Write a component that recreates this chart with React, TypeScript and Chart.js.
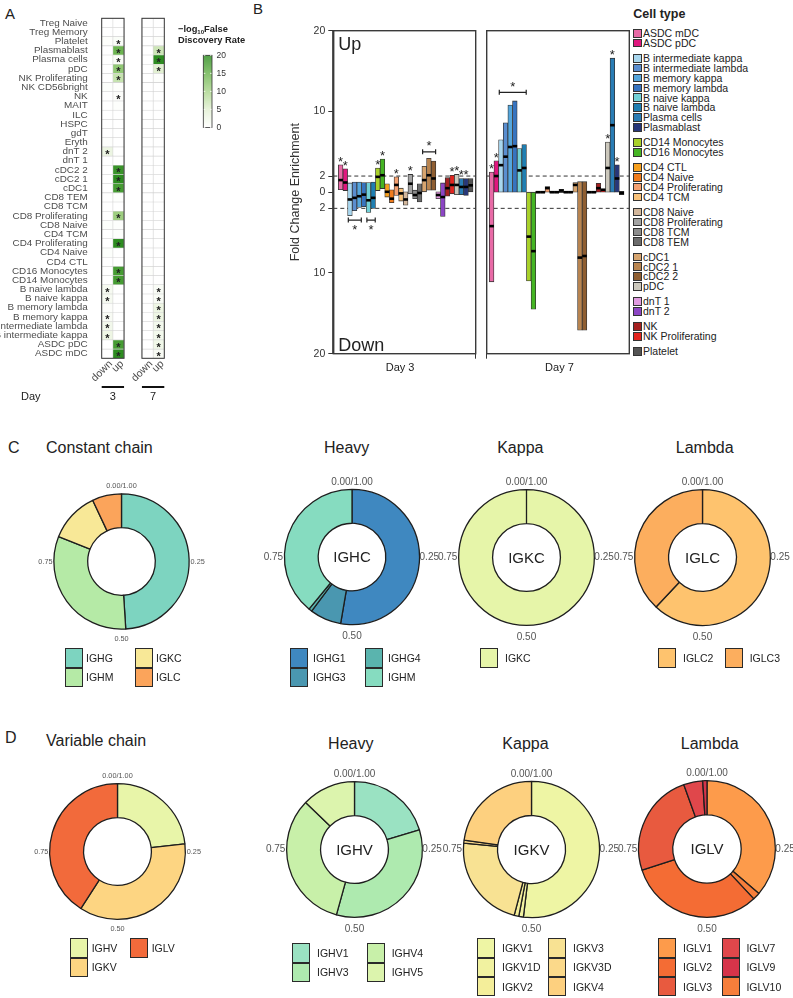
import React, { useEffect, useRef } from 'react';
import { Chart, registerables } from 'chart.js';

Chart.register(...registerables);

const FONT = '"Liberation Sans", Arial, Helvetica, sans-serif';
Chart.defaults.font.family = FONT;
const INK = '#222222';
const LABEL_GREY = '#4d4d4d';
const TICK_GREY = '#555555';

/* ---------------- Panel A : heatmap data ---------------- */
const heatRows = [
  'Treg Naive', 'Treg Memory', 'Platelet', 'Plasmablast', 'Plasma cells', 'pDC',
  'NK Proliferating', 'NK CD56bright', 'NK', 'MAIT', 'ILC', 'HSPC', 'gdT', 'Eryth',
  'dnT 2', 'dnT 1', 'cDC2 2', 'cDC2 1', 'cDC1', 'CD8 TEM', 'CD8 TCM',
  'CD8 Proliferating', 'CD8 Naive', 'CD4 TCM', 'CD4 Proliferating', 'CD4 Naive',
  'CD4 CTL', 'CD16 Monocytes', 'CD14 Monocytes', 'B naive lambda', 'B naive kappa',
  'B memory lambda', 'B memory kappa', 'B intermediate lambda', 'B intermediate kappa',
  'ASDC pDC', 'ASDC mDC',
];
const heatDays = ['3', '7'];
const heatDay3Down = [
  0, 0, 0.4, 0, 0, 0, 0, 0.5, 0, 0,
  0, 0, 0, 0.3, 3.2, 0, 0, 0, 0, 0,
  0, 0, 0.5, 0, 0, 0.5, 0, 0, 0, 1.6,
  1.6, 0.6, 1.2, 2.2, 3, 0, 0,
];
const heatDay3Up = [
  0, 0, 0.8, 15, 1, 12, 7.5, 0.4, 0.6, 0.3,
  0, 0, 0, 0, 0, 0, 19, 20, 18, 0.3,
  0, 11, 0.3, 0.3, 20, 0, 0, 18, 18, 0,
  0, 0, 0, 0, 0, 18, 20,
];
const heatDay7Down = [
  0, 0, 0, 0, 0, 0, 0, 0, 0, 0,
  0, 0, 0, 0, 0, 0, 0, 0, 0, 0,
  0, 0, 0, 0, 0, 0, 0, 0.4, 0, 0,
  0, 0, 0, 0, 0, 0, 0,
];
const heatDay7Up = [
  0, 0, 0.4, 7, 20, 5, 0.3, 0, 0, 0,
  0, 0, 0, 0, 0, 0, 0, 0, 0, 0,
  0, 0, 0, 0, 0, 0, 0, 0, 0, 1,
  1, 3, 3, 2, 2, 2.5, 1.2,
];
const starDay3Down = ['dnT 2', 'B naive lambda', 'B naive kappa', 'B memory kappa', 'B intermediate lambda', 'B intermediate kappa'];
const starDay3Up = ['Platelet', 'Plasmablast', 'Plasma cells', 'pDC', 'NK Proliferating', 'NK', 'cDC2 2', 'cDC2 1', 'cDC1',
  'CD8 Proliferating', 'CD4 Proliferating', 'CD16 Monocytes', 'CD14 Monocytes', 'ASDC pDC', 'ASDC mDC'];
const starDay7Down: string[] = [];
const starDay7Up = ['Plasmablast', 'Plasma cells', 'pDC', 'B naive lambda', 'B naive kappa', 'B memory lambda',
  'B memory kappa', 'B intermediate lambda', 'B intermediate kappa', 'ASDC pDC', 'ASDC mDC'];
const fdrTicks = [0, 5, 10, 15, 20];
const fdrMax = 20;

/* ---------------- Panel B : fold change data ---------------- */
const cellTypes = [
  'ASDC mDC', 'ASDC pDC', 'B intermediate kappa', 'B intermediate lambda', 'B memory kappa',
  'B memory lambda', 'B naive kappa', 'B naive lambda', 'CD14 Monocytes', 'CD16 Monocytes',
  'CD4 CTL', 'CD4 Naive', 'CD4 Proliferating', 'CD4 TCM', 'CD8 Naive', 'CD8 Proliferating',
  'CD8 TCM', 'CD8 TEM', 'cDC1', 'cDC2 1', 'cDC2 2', 'dnT 1', 'dnT 2', 'NK', 'NK Proliferating',
  'pDC', 'Plasma cells', 'Plasmablast', 'Platelet',
];
const cellColors = [
  '#e86aa6', '#e0177e', '#a8d6ee', '#5a8ed0', '#55a6dc', '#3774c0', '#72d1d7', '#1f7fb2',
  '#a9d12a', '#45b523', '#f7a01e', '#f07b1c', '#f5a070', '#f9c27a', '#d3b79c', '#a3a3a3',
  '#8c8c8c', '#6b6b6b', '#d7a56f', '#b98550', '#8f5e31', '#e09be0', '#8c45c4', '#a52020',
  '#e3241e', '#ccc8bc', '#2a7db5', '#27377a', '#545454',
];
const day3Low = [0.3, 0.2, -2.9, -2.3, -1.9, -1.8, -2.5, -2.0, 0.2, 0.45, -0.6, -1.3, -0.4, -1.1, -1.6,
  -0.2, -0.8, -1.2, 0.05, 0.25, 0.25, -0.8, -3.0, -0.5, -0.2, -0.3, -0.3, -0.4, 0.05];
const day3Median = [1.5, 1.2, -0.9, -0.7, -0.5, -0.3, -1.0, -0.7, 1.9, 2.1, 0.05, -0.8, 0.9, -0.15, -0.9,
  1.05, -0.35, -0.1, 1.5, 2.1, 1.7, -0.35, -0.6, 0.5, 0.9, 0.9, 0.65, 0.65, 0.85];
const day3High = [3.4, 2.9, 1.15, 1.25, 1.25, 1.2, 1.2, 1.25, 3.0, 4.1, 1.05, 0.3, 1.9, 0.5, 0.05,
  2.2, 0.25, 1.05, 3.2, 4.2, 3.85, 0.05, 1.15, 1.8, 2.1, 2.2, 1.7, 1.7, 1.7];
const day7Low = [-11.1, 0, 0, 0, 0, 0, 0, 0, -11.0, -14.5, -0.1, -0.1, 0, -0.1, -0.1, -0.05, -0.1, -0.1,
  0, -17.1, -17.1, -0.1, -0.1, 0, 0, 0, 0, 0, -0.3];
const day7Median = [-4.2, 2.0, 3.35, 4.4, 5.6, 5.7, 2.7, 3.0, -5.5, -7.3, 0, 0, 0.5, 0, 0, 0.2, 0, 0,
  0.9, -8.1, -7.9, 0, 0, 0.5, 0.3, 3.0, 8.3, 1.7, -0.1];
const day7High = [2.5, 3.9, 6.5, 8.6, 10.8, 11.3, 5.4, 5.9, 0, 0, 0.1, 0.1, 0.7, 0.1, 0.1, 0.35, 0.1, 0.1,
  1.2, 1.3, 1.3, 0.1, 0.1, 1.1, 0.4, 6.2, 16.6, 3.4, 0.1];
const foldTicks = [-20, -10, -2, 0, 2, 10, 20];
const foldThresholds = [-2, 2];
const dayLabels = ['Day 3', 'Day 7'];
const day3UpStars = ['ASDC mDC', 'ASDC pDC', 'CD14 Monocytes', 'CD16 Monocytes', 'CD4 Proliferating',
  'CD8 Proliferating', 'NK Proliferating', 'pDC', 'Plasma cells', 'Plasmablast'];
const day3Brackets = [
  { from: 'cDC1', to: 'cDC2 2', at: 5.0 },
  { from: 'B intermediate kappa', to: 'B memory kappa', at: -3.45 },
  { from: 'B naive kappa', to: 'B naive lambda', at: -3.45 },
];
const day7UpStars = ['ASDC mDC', 'ASDC pDC', 'pDC', 'Plasma cells', 'Plasmablast'];
const day7Brackets = [{ from: 'B intermediate kappa', to: 'B naive lambda', at: 12.37 }];
const legendGroups = [
  ['ASDC mDC', 'ASDC pDC'],
  ['B intermediate kappa', 'B intermediate lambda', 'B memory kappa', 'B memory lambda', 'B naive kappa', 'B naive lambda', 'Plasma cells', 'Plasmablast'],
  ['CD14 Monocytes', 'CD16 Monocytes'],
  ['CD4 CTL', 'CD4 Naive', 'CD4 Proliferating', 'CD4 TCM'],
  ['CD8 Naive', 'CD8 Proliferating', 'CD8 TCM', 'CD8 TEM'],
  ['cDC1', 'cDC2 1', 'cDC2 2', 'pDC'],
  ['dnT 1', 'dnT 2'],
  ['NK', 'NK Proliferating'],
  ['Platelet'],
];

/* ---------------- Panels C / D : ring data ---------------- */
const ringTicks = ['0.00/1.00', '0.25', '0.50', '0.75'];
const constantLabels = ['IGHG', 'IGHM', 'IGKC', 'IGLC'];
const constantShares = [0.49, 0.32, 0.12, 0.07];
const constantColors = ['#7dd4c0', '#b5eaa6', '#f8e897', '#fba45b'];
const heavyConstLabels = ['IGHG1', 'IGHG3', 'IGHG4', 'IGHM'];
const heavyConstShares = [0.527, 0.075, 0.008, 0.39];
const heavyConstColors = ['#3f88c0', '#4a97b0', '#5ab4ae', '#86dcc0'];
const kappaConstLabels = ['IGKC'];
const kappaConstShares = [1];
const kappaConstColors = ['#e6f5a9'];
const lambdaConstLabels = ['IGLC2', 'IGLC3'];
const lambdaConstShares = [0.62, 0.38];
const lambdaConstColors = ['#fec36e', '#fcae5e'];
const variableLabels = ['IGHV', 'IGKV', 'IGLV'];
const variableShares = [0.232, 0.359, 0.409];
const variableColors = ['#e8f5a9', '#fdd582', '#f26a3b'];
const heavyVarLabels = ['IGHV1', 'IGHV3', 'IGHV4', 'IGHV5'];
const heavyVarShares = [0.203, 0.34, 0.329, 0.128];
const heavyVarColors = ['#9ae2c2', '#aeeaaf', '#c8f0a9', '#dcf4ad'];
const kappaVarLabels = ['IGKV1', 'IGKV1D', 'IGKV2', 'IGKV3', 'IGKV3D', 'IGKV4'];
const kappaVarShares = [0.519, 0.011, 0.011, 0.224, 0.007, 0.228];
const kappaVarColors = ['#eef5a4', '#f1f2a0', '#f4ee9a', '#f8e293', '#fbd98a', '#fdd07f'];
const lambdaVarLabels = ['IGLV1', 'IGLV10', 'IGLV2', 'IGLV3', 'IGLV7', 'IGLV9'];
const lambdaVarShares = [0.363, 0.017, 0.32, 0.245, 0.045, 0.01];
const lambdaVarColors = ['#fd9b4b', '#f67e3b', '#f46c34', '#e85a3f', '#e0474b', '#d6344a'];
const lambdaVarLegend = ['IGLV1', 'IGLV2', 'IGLV3', 'IGLV7', 'IGLV9', 'IGLV10'];

/* ---------------- helpers ---------------- */
const heatStops: [number, number[]][] = [
  [0, [255, 255, 255]], [5, [226, 240, 210]], [10, [170, 213, 140]], [15, [108, 180, 80]], [20, [45, 140, 32]],
];
function heatColor(v: number) {
  const t = Math.max(0, Math.min(fdrMax, v));
  for (let k = 1; k < heatStops.length; k++) {
    const [v1, c1] = heatStops[k];
    const [v0, c0] = heatStops[k - 1];
    if (t <= v1) {
      const f = (t - v0) / (v1 - v0);
      const c = c0.map((a, j) => Math.round(a + (c1[j] - a) * f));
      return `rgb(${c[0]},${c[1]},${c[2]})`;
    }
  }
  return 'rgb(45,140,32)';
}

function Txt(props: any) {
  const { x, y, size, children, align = 'left', bold = false, color = INK } = props;
  const tx = align === 'center' ? 'translateX(-50%)' : align === 'right' ? 'translateX(-100%)' : 'none';
  return (
    <div style={{
      position: 'absolute', left: x, top: y - 0.846 * size, fontSize: size, lineHeight: `${size}px`,
      fontFamily: FONT, fontWeight: bold ? 700 : 400, color, whiteSpace: 'nowrap', transform: tx,
    }}>{children}</div>
  );
}

/* ---------------- Panel A component ---------------- */
function Heatmap() {
  const ref = useRef<HTMLCanvasElement | null>(null);
  useEffect(() => {
    const cols = [
      { values: heatDay3Down, stars: starDay3Down, span: [0, 1], label: 'down' },
      { values: heatDay3Up, stars: starDay3Up, span: [1, 2], label: 'up' },
      { values: heatDay7Down, stars: starDay7Down, span: [3.6, 4.6], label: 'down' },
      { values: heatDay7Up, stars: starDay7Up, span: [4.6, 5.6], label: 'up' },
    ];
    const blocks = [{ span: [0, 2], day: heatDays[0] }, { span: [3.6, 5.6], day: heatDays[1] }];
    const plugin = {
      id: 'heatDecor',
      afterDatasetsDraw(chart: any) {
        const { ctx, chartArea: a } = chart;
        const xs = chart.scales.x;
        ctx.save();
        ctx.fillStyle = INK;
        ctx.font = `bold 11px ${FONT}`;
        ctx.textAlign = 'center';
        ctx.textBaseline = 'alphabetic';
        cols.forEach((c, di) => {
          const meta = chart.getDatasetMeta(di);
          meta.data.forEach((el: any, i: number) => {
            if (c.stars.includes(heatRows[i])) {
              const p = el.getCenterPoint();
              ctx.fillText('*', p.x, p.y + 6.3);
            }
          });
        });
        blocks.forEach((b) => {
          const x0 = xs.getPixelForValue(b.span[0]);
          const x1 = xs.getPixelForValue(b.span[1]);
          ctx.strokeStyle = '#333';
          ctx.lineWidth = 1;
          ctx.strokeRect(x0, a.top, x1 - x0, a.bottom - a.top);
          ctx.strokeStyle = '#111';
          ctx.lineWidth = 2;
          ctx.beginPath();
          ctx.moveTo(x0, 387);
          ctx.lineTo(x1, 387);
          ctx.stroke();
          ctx.fillStyle = INK;
          ctx.font = `11px ${FONT}`;
          ctx.textAlign = 'center';
          ctx.fillText(b.day, (x0 + x1) / 2, 400);
        });
        ctx.textAlign = 'left';
        ctx.fillText('Day', 21, 400);
        ctx.font = `10.5px ${FONT}`;
        ctx.fillStyle = LABEL_GREY;
        cols.forEach((c) => {
          const xc = xs.getPixelForValue((c.span[0] + c.span[1]) / 2);
          ctx.save();
          ctx.translate(xc + 3.5, a.bottom + 4);
          ctx.rotate(-Math.PI / 4);
          ctx.textAlign = 'right';
          ctx.textBaseline = 'middle';
          ctx.fillText(c.label, 0, 0);
          ctx.restore();
        });
        // colour bar legend
        const cbX = 203.3, cbW = 8.7, cbTop = 55.3, cbBottom = 127.5;
        const span = cbBottom - cbTop;
        for (let k = 0; k < span; k++) {
          const v = fdrMax * (1 - (k + 0.5) / span);
          ctx.fillStyle = heatColor(v);
          ctx.fillRect(cbX, cbTop + k, cbW, 1.1);
        }
        ctx.strokeStyle = '#333';
        ctx.lineWidth = 0.8;
        ctx.strokeRect(cbX, cbTop, cbW, span);
        ctx.font = `8.5px ${FONT}`;
        ctx.textAlign = 'left';
        ctx.textBaseline = 'middle';
        fdrTicks.forEach((t) => {
          const y = cbBottom - (t / fdrMax) * span;
          ctx.strokeStyle = '#fff';
          ctx.lineWidth = 0.8;
          ctx.beginPath();
          ctx.moveTo(cbX + 0.5, y); ctx.lineTo(cbX + 2, y);
          ctx.moveTo(cbX + cbW - 2, y); ctx.lineTo(cbX + cbW - 0.5, y);
          ctx.stroke();
          ctx.fillStyle = '#333';
          ctx.fillText(String(t), 216.5, y);
        });
        ctx.textBaseline = 'alphabetic';
        ctx.fillStyle = INK;
        ctx.font = `bold 9.3px ${FONT}`;
        let tx = 178;
        ctx.fillText('\u2212log', tx, 31.7);
        tx += ctx.measureText('\u2212log').width;
        ctx.font = `bold 6px ${FONT}`;
        ctx.fillText('10', tx, 34);
        tx += ctx.measureText('10').width;
        ctx.font = `bold 9.3px ${FONT}`;
        ctx.fillText('False', tx, 31.7);
        ctx.fillText('Discovery Rate', 178, 42.7);
        ctx.restore();
      },
    };
    const chart = new Chart(ref.current as HTMLCanvasElement, {
      type: 'bar',
      data: {
        labels: heatRows,
        datasets: cols.map((c) => ({
          data: heatRows.map(() => c.span),
          backgroundColor: c.values.map(heatColor),
          borderColor: '#d4d4d4',
          borderWidth: 0.6,
          borderSkipped: false,
          barPercentage: 1,
          categoryPercentage: 1,
          grouped: false,
        })),
      } as any,
      options: {
        indexAxis: 'y',
        responsive: false,
        animation: false,
        layout: { padding: { top: 18.3, bottom: 51.7, right: 85.7, left: 0 } },
        plugins: { legend: { display: false }, tooltip: { enabled: false } },
        scales: {
          x: { type: 'linear', min: 0, max: 5.6, display: false },
          y: {
            type: 'category',
            grid: { display: false },
            border: { display: false },
            ticks: { autoSkip: false, color: LABEL_GREY, font: { family: FONT, size: 9.9 }, padding: 6 },
            afterFit: (s: any) => { s.width = 101.7; },
          },
        },
      } as any,
      plugins: [plugin],
    });
    return () => chart.destroy();
  }, []);
  return <canvas ref={ref} width={250} height={410} style={{ position: 'absolute', left: 0, top: 0 }} />;
}

/* ---------------- Panel B component ---------------- */
function FoldPanel(props: any) {
  const { left, width, low, median, high, xMin, xMax, tickPos, dayLabel, showY, upStars, brackets, padLeft, padRight } = props;
  const ref = useRef<HTMLCanvasElement | null>(null);
  useEffect(() => {
    const plugin = {
      id: 'foldDecor',
      beforeDatasetsDraw(chart: any) {
        const { ctx, chartArea: a } = chart;
        const ys = chart.scales.y;
        ctx.save();
        ctx.setLineDash([4, 3]);
        ctx.strokeStyle = '#333';
        ctx.lineWidth = 1;
        foldThresholds.forEach((t) => {
          const y = ys.getPixelForValue(t);
          ctx.beginPath();
          ctx.moveTo(a.left, y);
          ctx.lineTo(a.right, y);
          ctx.stroke();
        });
        ctx.restore();
      },
      afterDatasetsDraw(chart: any) {
        const { ctx, chartArea: a } = chart;
        const ys = chart.scales.y;
        const xs = chart.scales.x;
        const meta = chart.getDatasetMeta(0);
        ctx.save();
        ctx.fillStyle = '#000';
        meta.data.forEach((el: any, i: number) => {
          const y = ys.getPixelForValue(median[i]);
          ctx.fillRect(el.x - el.width / 2, y - 1.3, el.width, 2.6);
        });
        ctx.font = `13px ${FONT}`;
        ctx.textAlign = 'center';
        ctx.textBaseline = 'alphabetic';
        ctx.fillStyle = INK;
        upStars.forEach((name: string) => {
          const i = cellTypes.indexOf(name);
          const el = meta.data[i];
          ctx.fillText('*', el.x, ys.getPixelForValue(high[i]) + 0.8);
        });
        ctx.strokeStyle = INK;
        ctx.lineWidth = 1.2;
        brackets.forEach((b: any) => {
          const i0 = cellTypes.indexOf(b.from);
          const i1 = cellTypes.indexOf(b.to);
          const x0 = xs.getPixelForValue(i0 - 0.35);
          const x1 = xs.getPixelForValue(i1 + 0.45);
          const y = ys.getPixelForValue(b.at);
          ctx.beginPath();
          ctx.moveTo(x0, y); ctx.lineTo(x1, y);
          ctx.moveTo(x0, y - 2.5); ctx.lineTo(x0, y + 2.5);
          ctx.moveTo(x1, y - 2.5); ctx.lineTo(x1, y + 2.5);
          ctx.stroke();
          ctx.fillText('*', (x0 + x1) / 2, b.at > 0 ? y - 1.7 : y + 14);
        });
        ctx.strokeStyle = '#3a3a3a';
        ctx.lineWidth = 1.4;
        ctx.strokeRect(a.left, a.top, a.right - a.left, a.bottom - a.top);
        if (showY) {
          ctx.lineWidth = 2.2;
          ctx.beginPath();
          ctx.moveTo(a.left, a.top);
          ctx.lineTo(a.left, a.bottom);
          ctx.stroke();
          ctx.font = `18px ${FONT}`;
          ctx.textAlign = 'left';
          ctx.fillStyle = INK;
          ctx.fillText('Up', a.left + 5, a.top + 19.3);
          ctx.fillText('Down', a.left + 5, a.bottom - 3);
        }
        ctx.restore();
      },
    };
    const yScale: any = {
      display: showY, min: -20, max: 20, bounds: 'data',
      afterBuildTicks: (s: any) => { s.ticks = foldTicks.map((v) => ({ value: v })); },
      ticks: { callback: (v: any) => String(Math.abs(Number(v))), color: '#333', font: { family: FONT, size: 10.5 }, padding: 3, autoSkip: false },
      grid: { drawOnChartArea: false, tickLength: 5, color: '#333' },
      border: { display: false },
      title: { display: showY, text: 'Fold Change Enrichment', color: '#333', font: { family: FONT, size: 12.5 }, padding: { top: 38.5, bottom: 0 } },
    };
    if (showY) yScale.afterFit = (s: any) => { s.width = 83.3; };
    const chart = new Chart(ref.current as HTMLCanvasElement, {
      type: 'bar',
      data: {
        datasets: [{
          data: cellTypes.map((_, i) => ({ x: i, y: [low[i], high[i]] })),
          backgroundColor: cellColors,
          borderColor: '#333',
          borderWidth: 0.8,
          borderSkipped: false,
          barPercentage: 1,
          categoryPercentage: 1,
        }],
      } as any,
      options: {
        responsive: false,
        animation: false,
        layout: { padding: { top: 30.7, bottom: 0, left: padLeft, right: padRight } },
        plugins: { legend: { display: false }, tooltip: { enabled: false } },
        scales: {
          x: {
            type: 'linear', offset: false, bounds: 'data', min: xMin, max: xMax,
            afterBuildTicks: (s: any) => { s.ticks = [{ value: tickPos }]; },
            ticks: { callback: () => dayLabel, color: INK, font: { family: FONT, size: 11 }, padding: 3, maxRotation: 0, autoSkip: false },
            grid: { drawOnChartArea: false, tickLength: 5, color: '#333', tickWidth: 1 },
            border: { display: false },
            afterFit: (s: any) => { s.height = 31.3; },
          },
          y: yScale,
        },
      } as any,
      plugins: [plugin],
    });
    return () => chart.destroy();
  }, []);
  return <canvas ref={ref} width={width} height={385} style={{ position: 'absolute', left, top: 0 }} />;
}

function CellLegend() {
  const rows: { name: string; y: number }[] = [];
  let y = 33.3;
  legendGroups.forEach((g, gi) => {
    if (gi > 0) y += 5.3;
    g.forEach((name) => { rows.push({ name, y }); y += 9.85; });
  });
  return (
    <>
      <Txt x={633.3} y={19} size={12.5} bold>Cell type</Txt>
      {rows.map((r) => (
        <React.Fragment key={r.name}>
          <div style={{
            position: 'absolute', left: 633.3, top: r.y - 4.25, width: 8.5, height: 8.5, boxSizing: 'border-box',
            border: '0.8px solid #333', background: cellColors[cellTypes.indexOf(r.name)],
          }} />
          <Txt x={643} y={r.y + 3.8} size={10.5}>{r.name}</Txt>
        </React.Fragment>
      ))}
    </>
  );
}

/* ---------------- Panels C / D components ---------------- */
function Ring(props: any) {
  const { cx, cy, r, labels, values, colors, center, small } = props;
  const ref = useRef<HTMLCanvasElement | null>(null);
  const W = Math.round(2 * r + 110);
  const H = Math.round(2 * r + 50);
  useEffect(() => {
    const padX = (W - 2 * r - 2) / 2;
    const padY = (H - 2 * r - 2) / 2;
    const plugin = {
      id: 'ringDecor',
      afterDraw(chart: any) {
        const arc = chart.getDatasetMeta(0).data[0];
        const x = arc.x, y = arc.y, R = arc.outerRadius;
        const { ctx } = chart;
        ctx.save();
        ctx.fillStyle = TICK_GREY;
        ctx.font = `${small ? 7.3 : 10}px ${FONT}`;
        ctx.textAlign = 'center';
        ctx.textBaseline = 'alphabetic';
        ctx.fillText(ringTicks[0], x, y - R - (small ? 5.7 : 4.7));
        ctx.fillText(ringTicks[2], x, y + R + (small ? 11.7 : 14.3));
        ctx.textBaseline = 'middle';
        ctx.textAlign = 'left';
        ctx.fillText(ringTicks[1], x + R + (small ? 1.4 : 0), y);
        ctx.textAlign = 'right';
        ctx.fillText(ringTicks[3], x - R - 1.3, y);
        if (center) {
          ctx.fillStyle = INK;
          ctx.font = `15px ${FONT}`;
          ctx.textAlign = 'center';
          ctx.fillText(center, x, y + 1);
        }
        ctx.restore();
      },
    };
    const chart = new Chart(ref.current as HTMLCanvasElement, {
      type: 'doughnut',
      data: {
        labels,
        datasets: [{ data: values, backgroundColor: colors, borderColor: '#1e1e1e', borderWidth: 1.3, hoverOffset: 0, offset: 0 }],
      } as any,
      options: {
        responsive: false,
        animation: false,
        cutout: '50%',
        rotation: 0,
        circumference: 360,
        layout: { padding: { left: padX, right: padX, top: padY, bottom: padY } },
        plugins: { legend: { display: false }, tooltip: { enabled: false } },
      } as any,
      plugins: [plugin],
    });
    return () => chart.destroy();
  }, []);
  return <canvas ref={ref} width={W} height={H} style={{ position: 'absolute', left: cx - W / 2, top: cy - H / 2 }} />;
}

function RingLegend(props: any) {
  const { order, labels, colors, nrow, colLefts, top, gap } = props;
  const kw = 18, kh = 19.4;
  return (
    <>
      {order.map((name: string, k: number) => {
        const col = Math.floor(k / nrow);
        const row = k % nrow;
        const x = colLefts[col];
        const y = top + row * kh;
        return (
          <React.Fragment key={name}>
            <div style={{
              position: 'absolute', left: x, top: y, width: kw, height: kh, boxSizing: 'border-box',
              border: '1.5px solid #2a2a2a', background: colors[labels.indexOf(name)],
            }} />
            <Txt x={x + kw + gap} y={y + kh / 2 + 3.8} size={10.5}>{name}</Txt>
          </React.Fragment>
        );
      })}
    </>
  );
}

export default function App() {
  return (
    <div style={{ position: 'absolute', left: 0, top: 0, width: 793, height: 998, background: '#fff', overflow: 'hidden', fontFamily: FONT }}>
      <Txt x={5} y={18.3} size={15}>A</Txt>
      <Txt x={253} y={13.5} size={15}>B</Txt>
      <Heatmap />
      <FoldPanel left={250} width={230} low={day3Low} median={day3Median} high={day3High}
        xMin={-1.58} xMax={29.08} tickPos={12.8} dayLabel={dayLabels[0]} showY
        upStars={day3UpStars} brackets={day3Brackets} padLeft={0} padRight={4.3} />
      <FoldPanel left={480} width={153} low={day7Low} median={day7Median} high={day7High}
        xMin={-1.06} xMax={29.64} tickPos={14.6} dayLabel={dayLabels[1]} showY={false}
        upStars={day7UpStars} brackets={day7Brackets} padLeft={6.7} padRight={3.7} />
      <CellLegend />

      <Txt x={8} y={453.3} size={16}>C</Txt>
      <Txt x={46} y={453.3} size={16}>Constant chain</Txt>
      <Txt x={346.7} y={453.3} size={16} align="center">Heavy</Txt>
      <Txt x={520.3} y={453.3} size={16} align="center">Kappa</Txt>
      <Txt x={704.7} y={453.3} size={16} align="center">Lambda</Txt>
      <Ring cx={121.3} cy={561.3} r={67.3} labels={constantLabels} values={constantShares} colors={constantColors} small />
      <Ring cx={351.7} cy={557.2} r={67.2} labels={heavyConstLabels} values={heavyConstShares} colors={heavyConstColors} center="IGHC" />
      <Ring cx={526.5} cy={557.8} r={67.5} labels={kappaConstLabels} values={kappaConstShares} colors={kappaConstColors} center="IGKC" />
      <Ring cx={702.5} cy={557.8} r={67.5} labels={lambdaConstLabels} values={lambdaConstShares} colors={lambdaConstColors} center="IGLC" />
      <RingLegend order={constantLabels} labels={constantLabels} colors={constantColors} nrow={2} colLefts={[65, 135]} top={648.3} gap={3} />
      <RingLegend order={heavyConstLabels} labels={heavyConstLabels} colors={heavyConstColors} nrow={2} colLefts={[290, 365]} top={648.3} gap={5} />
      <RingLegend order={kappaConstLabels} labels={kappaConstLabels} colors={kappaConstColors} nrow={1} colLefts={[480]} top={648.3} gap={7} />
      <RingLegend order={lambdaConstLabels} labels={lambdaConstLabels} colors={lambdaConstColors} nrow={1} colLefts={[658.3, 725]} top={648.3} gap={6.7} />

      <Txt x={5} y={743.3} size={16}>D</Txt>
      <Txt x={46} y={746.7} size={16}>Variable chain</Txt>
      <Txt x={350.8} y={750} size={16} align="center">Heavy</Txt>
      <Txt x={525.5} y={750} size={16} align="center">Kappa</Txt>
      <Txt x={709.7} y={750} size={16} align="center">Lambda</Txt>
      <Ring cx={117.8} cy={851.3} r={67.5} labels={variableLabels} values={variableShares} colors={variableColors} small />
      <Ring cx={354.2} cy={849.2} r={67.5} labels={heavyVarLabels} values={heavyVarShares} colors={heavyVarColors} center="IGHV" />
      <Ring cx={531.2} cy={849.2} r={67.7} labels={kappaVarLabels} values={kappaVarShares} colors={kappaVarColors} center="IGKV" />
      <Ring cx={707} cy={849.2} r={68} labels={lambdaVarLabels} values={lambdaVarShares} colors={lambdaVarColors} center="IGLV" />
      <RingLegend order={variableLabels} labels={variableLabels} colors={variableColors} nrow={2} colLefts={[70, 130]} top={938.3} gap={3.7} />
      <RingLegend order={heavyVarLabels} labels={heavyVarLabels} colors={heavyVarColors} nrow={2} colLefts={[292, 366.7]} top={943.3} gap={7} />
      <RingLegend order={kappaVarLabels} labels={kappaVarLabels} colors={kappaVarColors} nrow={3} colLefts={[477.3, 548.3]} top={938.3} gap={6.7} />
      <RingLegend order={lambdaVarLegend} labels={lambdaVarLabels} colors={lambdaVarColors} nrow={3} colLefts={[658.3, 721.7]} top={938.3} gap={6.7} />
    </div>
  );
}
